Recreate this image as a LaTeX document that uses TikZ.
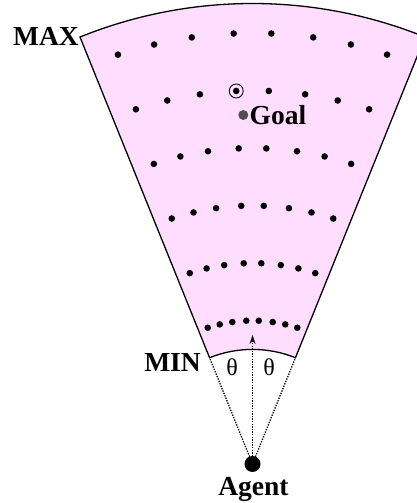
\documentclass[tikz,border=0pt]{standalone}
\usepackage{fontspec}
\setmainfont{Liberation Serif}
\usetikzlibrary{arrows.meta,calc}
\definecolor{fanpink}{RGB}{255,221,255}
\definecolor{goalgray}{RGB}{80,80,80}
\tikzset{
  lbl/.style={font=\fontsize{27.5}{27.5}\selectfont\bfseries, inner sep=0pt},
  thlbl/.style={font=\fontsize{24}{24}\selectfont, inner sep=0pt},
  rayline/.style={line width=1.3pt, dash pattern=on 1.3pt off 1.3pt},
  edge/.style={line width=1.3pt, line join=miter}
}
\begin{document}
\begin{tikzpicture}[x=1pt,y=1pt]
\useasboundingbox (0,0) rectangle (417,503);
\clip (0,0) rectangle (417,503);
\coordinate (A) at (252.5,39);
\coordinate (inL) at ($(A)+(112:114.6)$);
\coordinate (inR) at ($(A)+(68:114.6)$);
\coordinate (outL) at ($(A)+(112:460.5)$);
\coordinate (outR) at ($(A)+(68:460.5)$);
% fan
\filldraw[fill=fanpink, draw=black, edge]
  (inL) -- (outL) arc[start angle=112, end angle=68, radius=460.5pt]
  -- (inR) arc[start angle=68, end angle=112, radius=114.6pt] -- cycle;
% dots
\foreach \k in {0,...,5}{
  \foreach \a in {2.5,8.1,13.2,18.2}{
    \fill ($(A)+(90+\a:143.4+57.5*\k)$) circle[radius=3.3pt];
    \fill ($(A)+(90-\a:143.4+57.5*\k)$) circle[radius=3.3pt];
  }
}
\draw[line width=0.9pt] ($(A)+(92.5:373.4)$) circle[radius=7pt];
% goal
\fill[goalgray] (243.3,388) circle[radius=5pt];
\node[lbl, anchor=base west] (goal) at (249.5,378.5) {Goal};
% rays
\coordinate (tip) at (252.5,168);
\draw[rayline] (A) -- (inL);
\draw[rayline] (A) -- (inR);
\draw[rayline, -{Stealth[length=9pt,width=6pt,line width=0pt]}] (A) -- (tip);
\node[circle, fill=black, inner sep=0pt, minimum size=16pt] (agent) at (A) {};
% labels
\node[lbl, anchor=base east] (max) at (79,457) {MAX};
\node[lbl, anchor=base east] (min) at (201,131) {MIN};
\node[lbl, anchor=base] (agentlbl) at (253.5,8) {Agent};
\node[thlbl, anchor=base] (th1) at (232,127) {θ};
\node[thlbl, anchor=base] (th2) at (269,127) {θ};
\end{tikzpicture}
\end{document}
